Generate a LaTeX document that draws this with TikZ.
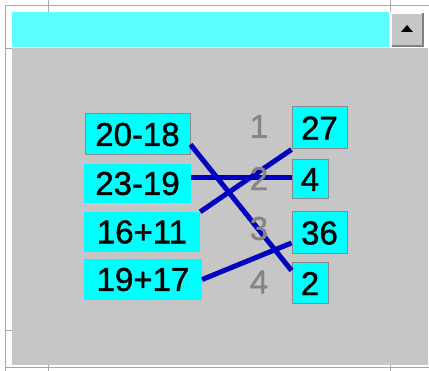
\documentclass[tikz,border=0pt]{standalone}
\usepackage{fontspec}
\setmainfont{Liberation Sans}
\newfontfamily\cellfont[FakeBold=1.2]{Liberation Sans}
\usepackage{tikz}

\begin{document}
\begin{tikzpicture}[x=1pt, y=-1pt, font=\cellfont\fontsize{33}{33}\selectfont]
  \definecolor{cellcyan}{HTML}{5CFFFF}
  \definecolor{boxcyan}{HTML}{00FFFF}
  \definecolor{panel}{HTML}{C6C6C6}
  \definecolor{grid}{HTML}{A8A8A8}
  \definecolor{edge}{HTML}{8A8A8A}
  \definecolor{link}{HTML}{0000C0}
  \definecolor{num}{HTML}{858585}
  \tikzset{
    term/.style={rectangle, fill=boxcyan, inner sep=0pt, align=center},
    framed/.style={draw=edge, line width=1pt},
    match/.style={draw=link, line width=5pt},
    slot/.style={text=num, inner sep=0pt}
  }
  \useasboundingbox (0,0) rectangle (429,371);
  \fill[white] (0,0) rectangle (429,371);

  % sheet grid and panels
  \draw[grid] (5,371) -- (5,5) -- (429,5);
  \draw[grid] (5,367) -- (429,367);
  \draw[grid] (48,0) -- (48,12) (390,0) -- (390,12);
  \draw[grid] (48,365) -- (48,371) (390,365) -- (390,371);
  \draw[grid] (5,48) -- (12,48) (5,330) -- (12,330);
  \fill[cellcyan] (12,12) rectangle (389,47);
  \fill[panel] (12,48) rectangle (428,365);

  % scroll button
  \fill[panel] (391,13) rectangle (423,46);
  \draw[white, line width=1pt] (391.5,45.5) -- (391.5,13.5) -- (422.5,13.5);
  \draw[gray, line width=2pt] (392,46) -- (423,46) -- (423,13);
  \fill[black] (401,32) -- (413,32) -- (407,25) -- cycle;

  % sums
  \node (s2018) [term, framed, minimum width=105, minimum height=41] at (137.5,134.5) {20-18};
  \node (s2319) [term, minimum width=107, minimum height=39] at (137.5,183.5) {23-19};
  \node (s1611) [term, minimum width=116, minimum height=40] at (142,232) {16+11};
  \node (s1917) [term, minimum width=118, minimum height=41] at (143,279.5) {19+17};

  % results
  \node (r27) [term, framed, minimum width=55, minimum height=42] at (319.5,128) {27};
  \node (r4) [term, framed, minimum width=36, minimum height=39] at (310,179.5) {4};
  \node (r36) [term, framed, minimum width=55, minimum height=42] at (319.5,233) {36};
  \node (r2) [term, framed, minimum width=36, minimum height=41] at (310,283.5) {2};

  % links
  \draw[match] ([yshift=-10pt]s2018.east) -- ([yshift=13pt]r2.west);
  \draw[match] ([yshift=6pt]s2319.east) -- ([yshift=2pt]r4.west);
  \draw[match] (s1611.north east) -- (r27.south west);
  \draw[match] (s1917.east) -- ([yshift=-10pt]r36.west);

  % row numbers
  \node (n1) [slot] at (259,126.5) {1};
  \node (n2) [slot] at (259,178.5) {2};
  \node (n3) [slot] at (259,228.5) {3};
  \node (n4) [slot] at (259,282) {4};
\end{tikzpicture}
\end{document}
